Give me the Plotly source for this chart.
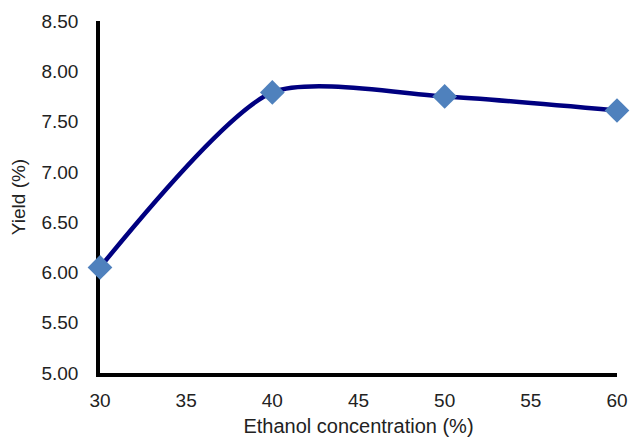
import plotly.graph_objects as go

ethanol = [30, 40, 50, 60]
yield_pct = [6.05, 7.79, 7.75, 7.61]
x_ticks = [30, 35, 40, 45, 50, 55, 60]
y_ticks = [5.0, 5.5, 6.0, 6.5, 7.0, 7.5, 8.0, 8.5]

fig = go.Figure()
fig.add_trace(go.Scatter(
    x=ethanol, y=yield_pct, mode="lines",
    line=dict(color="#000080", width=4.5, shape="spline", smoothing=0.7),
    cliponaxis=False, hoverinfo="skip"))
fig.add_trace(go.Scatter(
    x=ethanol, y=yield_pct, mode="markers",
    marker=dict(symbol="diamond", size=19, color="#4F81BD"),
    cliponaxis=False))

font = "Liberation Sans, Arial, sans-serif"
fig.update_layout(
    width=632, height=437,
    margin=dict(l=100, r=15, t=21, b=64),
    paper_bgcolor="white", plot_bgcolor="white",
    showlegend=False,
    font=dict(family=font, size=19, color="#222222"),
    xaxis=dict(range=[30, 60], tickvals=x_ticks, ticktext=[str(v) for v in x_ticks],
               showgrid=False, zeroline=False, showline=True, linecolor="black",
               linewidth=3.5, ticks="", ticklabelstandoff=7, layer="below traces",
               automargin=False,
               title=dict(text="Ethanol concentration (%)", font=dict(size=20), standoff=14)),
    yaxis=dict(range=[5.0, 8.5], tickvals=y_ticks, ticktext=[f"{v:.2f}" for v in y_ticks],
               showgrid=False, zeroline=False, showline=True, linecolor="black",
               linewidth=3.5, ticks="", ticklabelstandoff=14, layer="below traces",
               automargin=False,
               title=dict(text="Yield (%)", font=dict(size=19), standoff=12)),
)
fig.write_html("out.html")
